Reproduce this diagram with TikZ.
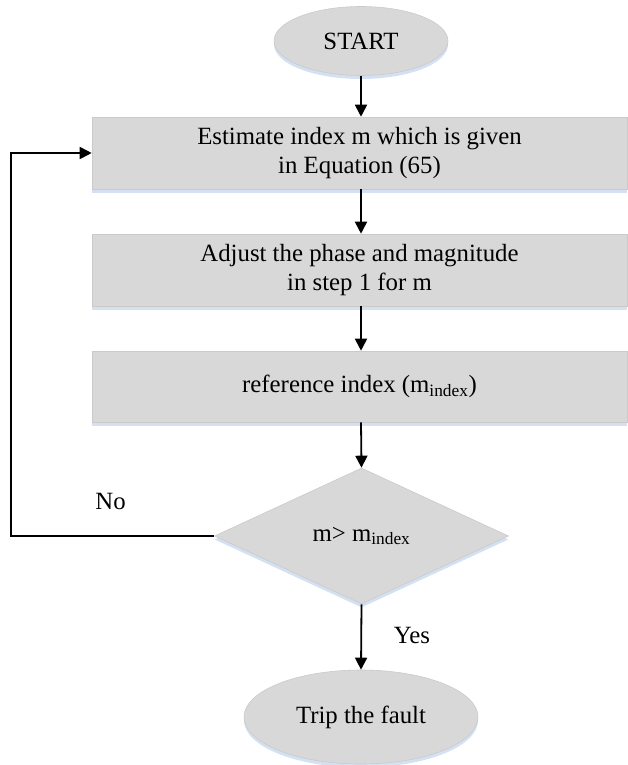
\documentclass[tikz,border=0pt]{standalone}
\usepackage{fontspec}
\setmainfont{Liberation Serif}
\usetikzlibrary{shapes.geometric,arrows.meta,shadows}
\definecolor{shapefill}{HTML}{D8D8D8}
\definecolor{shapeedge}{HTML}{CACACA}
\definecolor{glow}{HTML}{C9DAF0}
\tikzset{
  base/.style={fill=shapefill, draw=shapeedge, line width=0.6pt, inner sep=0pt,
    align=center, font=\fontsize{24.8}{29.5}\selectfont,
    drop shadow={shadow xshift=0pt, shadow yshift=-3.5pt, fill=glow, opacity=0.8}},
  stepbox/.style={base, rectangle, minimum width=535pt},
  terminal/.style={base, ellipse},
  decision/.style={base, diamond, minimum width=294pt, minimum height=136pt},
  flow/.style={line width=1.8pt, -{Triangle[length=12pt,width=12pt]}},
  plain/.style={font=\fontsize{24.8}{29.5}\selectfont, inner sep=0pt}
}
\begin{document}
\begin{tikzpicture}[x=1pt, y=-1pt]
  \useasboundingbox (0,0) rectangle (627,765);

  % shapes
  \node[terminal, minimum width=174pt, minimum height=69pt] (start) at (361,41) {START};
  \node[stepbox, minimum height=72pt] (est) at (359.5,153)
    {Estimate index m which is given\\in Equation (65)};
  \node[stepbox, minimum height=72pt] (adj) at (359.5,270)
    {Adjust the phase and magnitude\\in step 1 for m};
  \node[stepbox, minimum height=71pt] (ref) at (359.5,386.5)
    {reference index (m\textsubscript{index})};
  \node[decision] (cmp) at (361.5,536) {m> m\textsubscript{index}};
  \node[terminal, minimum width=234pt, minimum height=94pt] (trip) at (361,717) {Trip the fault};

  % connectors
  \draw[flow] (start.south) -- (start.south |- est.north);
  \draw[flow] (est.south -| start.south) -- (start.south |- adj.north);
  \draw[flow] (adj.south -| start.south) -- (start.south |- ref.north);
  \draw[flow] (ref.south -| start.south) -- (cmp.north);
  \draw[flow] (cmp.south) -- (trip.north);

  \coordinate (loop) at (11,536);
  \draw[flow] (cmp.west) -- (loop) |- (est.west);

  % branch labels
  \node[plain, anchor=base] (no) at (110.5,509) {No};
  \node[plain, anchor=base] (yes) at (412,643) {Yes};
\end{tikzpicture}
\end{document}
